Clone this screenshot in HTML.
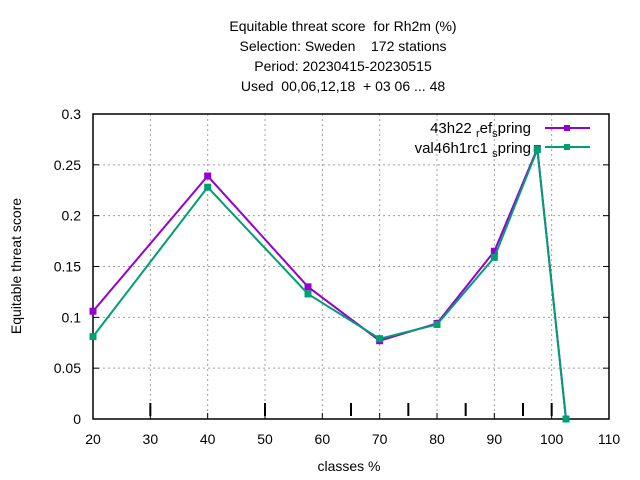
<!DOCTYPE html>
<html><head><meta charset="utf-8"><style>body{margin:0;background:#fff}svg{display:block;font-family:"Liberation Sans",sans-serif}text{white-space:pre}</style></head>
<body>
<svg id="c" width="640" height="480" xmlns="http://www.w3.org/2000/svg">
<g font-size="14" text-anchor="middle" fill="#000">
<text x="343" y="31">Equitable threat score  for Rh2m (%)</text>
<text x="343" y="51">Selection: Sweden    172 stations</text>
<text x="343" y="71">Period: 20230415-20230515</text>
<text x="343" y="91">Used  00,06,12,18  + 03 06 ... 48</text>
</g>
<g id="grid"></g><g id="axes"></g><g id="series"></g>
<text x="349" y="471" font-size="14" text-anchor="middle">classes %</text>
<text transform="translate(21,266) rotate(-90)" font-size="14" text-anchor="middle">Equitable threat score</text>
<g font-size="15">
<text x="531" y="133" text-anchor="end">43h22 <tspan font-size="11" dy="4">r</tspan><tspan dy="-4">ef</tspan><tspan font-size="11" dy="4">s</tspan><tspan dy="-4">pring</tspan></text>
<text x="531" y="153" text-anchor="end">val46h1rc1 <tspan font-size="11" dy="4">s</tspan><tspan dy="-4">pring</tspan></text>
<line x1="545" y1="128" x2="590" y2="128" stroke="#9400d3" stroke-width="2"/>
<rect x="564" y="125" width="6" height="6" fill="#9400d3"/>
<line x1="545" y1="147" x2="590" y2="147" stroke="#009e73" stroke-width="2"/>
<rect x="564" y="144" width="6" height="6" fill="#009e73"/>
</g>
</svg>
<script>
const xTicks=[20,30,40,50,60,70,80,90,100,110];
const yTicks=[0,0.05,0.1,0.15,0.2,0.25,0.3];
const yTickLabels=["0","0.05","0.1","0.15","0.2","0.25","0.3"];
const classMarks=[30,50,65,75,85,95,100];
const xs=[20,40,57.5,70,80,90,97.5,102.5];
const refVals=[0.106,0.239,0.130,0.077,0.094,0.165,0.266,0];
const valVals=[0.081,0.228,0.123,0.079,0.093,0.159,0.265,0];
const L=93,R=609,T=114,B=419;
const X=v=>L+(v-20)/(110-20)*(R-L);
const Y=v=>B-v/0.3*(B-T);
const NS="http://www.w3.org/2000/svg";
function mk(p,t,a){const e=document.createElementNS(NS,t);for(const k in a)e.setAttribute(k,a[k]);p.appendChild(e);return e;}
const g=document.getElementById('grid'),ax=document.getElementById('axes'),s=document.getElementById('series');
xTicks.forEach(v=>{const x=X(v);
 if(v>20&&v<110){const l=mk(g,'line',{x1:x,x2:x,y1:T,y2:B,stroke:'#a0a0a0','stroke-dasharray':'2,3'});
 
 }
 const t=mk(ax,'text',{x:x,y:B+25,'font-size':14,'text-anchor':'middle'});t.textContent=v;
 
 
 mk(ax,'line',{x1:x,x2:x,y1:B,y2:B-6,stroke:'#000'});});
yTicks.forEach((v,i)=>{const y=Y(v);
 if(v>0&&v<0.3){const l=mk(g,'line',{x1:L,x2:R,y1:y,y2:y,stroke:'#a0a0a0','stroke-dasharray':'2,3'});
 
 }
 const t=mk(ax,'text',{x:L-12,y:y+5,'font-size':14,'text-anchor':'end'});t.textContent=yTickLabels[i];
 
 
 mk(ax,'line',{x1:L,x2:L+6,y1:y,y2:y,stroke:'#000'});mk(ax,'line',{x1:R,x2:R-6,y1:y,y2:y,stroke:'#000'});});
classMarks.forEach(v=>{const m=mk(ax,'line',{x1:X(v),x2:X(v),y1:B-16,y2:B-3,stroke:'#000','stroke-width':2});
 
 });
const fr=mk(ax,'rect',{x:L,y:T,width:R-L,height:B-T,fill:'none',stroke:'#000','stroke-width':1.5});


function draw(vals,col,name){
 const pl=mk(s,'polyline',{points:xs.map((x,i)=>X(x)+','+Y(vals[i])).join(' '),fill:'none',stroke:col,'stroke-width':2});
 
 
 xs.forEach((x,i)=>{const r=mk(s,'rect',{x:X(x)-3.5,y:Y(vals[i])-3.5,width:7,height:7,fill:col});
 
 });}
draw(refVals,'#9400d3','ref-series');
draw(valVals,'#009e73','val-series');
</script>
</body></html>
